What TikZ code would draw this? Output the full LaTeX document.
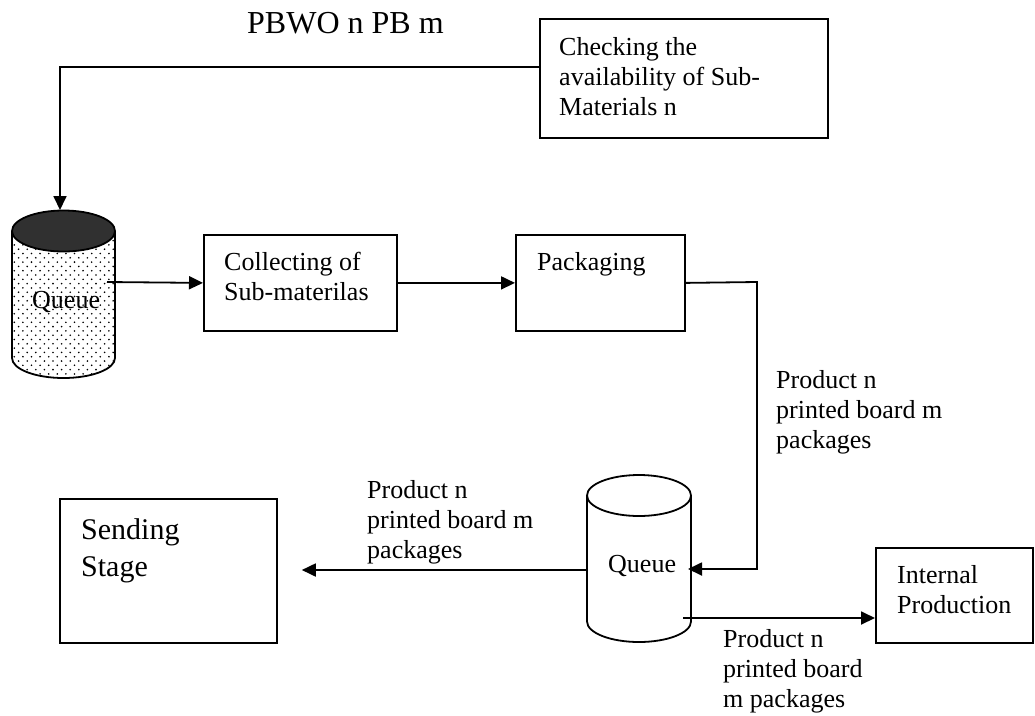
\documentclass[tikz,border=0pt]{standalone}
\usepackage{fontspec}
\setmainfont{Liberation Serif}
\usetikzlibrary{arrows.meta,calc}
\definecolor{capgray}{HTML}{303030}
\tikzset{
  boxnode/.style={draw, line width=1.8pt, rectangle, inner sep=0pt},
  txt/.style={anchor=base west, inner sep=0pt, align=left, font=\fontsize{26}{30}\selectfont},
  flow/.style={line width=1.8pt, -{Triangle[length=14pt,width=13pt]}},
  cyl/.style={line width=1.8pt}
}
\begin{document}
\begin{tikzpicture}[x=1pt,y=-1pt]
\useasboundingbox (0,0) rectangle (1035,715);

% heading
\node[txt, font=\fontsize{32}{36}\selectfont] (title) at (247,33) {PBWO n PB m};

% process boxes (text nodes are placed by the baseline of their last line)
\node[boxnode, anchor=north west, minimum width=288pt, minimum height=119pt] (check) at (539,18) {};
\node[txt] (checktxt) at (559,115) {Checking the\\availability of Sub-\\Materials n};

\node[boxnode, anchor=north west, minimum width=193pt, minimum height=96pt] (collect) at (203,234) {};
\node[txt] (collecttxt) at (224,300) {Collecting of\\Sub-materilas};

\node[boxnode, anchor=north west, minimum width=169pt, minimum height=96pt] (pack) at (515,234) {};
\node[txt] (packtxt) at (537,270) {Packaging};

\node[boxnode, anchor=north west, minimum width=217pt, minimum height=144pt] (send) at (59,498) {};
\node[txt, font=\fontsize{30}{37}\selectfont] (sendtxt) at (81,576) {Sending\\Stage};

\node[boxnode, anchor=north west, minimum width=157pt, minimum height=95pt] (ip) at (875,547) {};
\node[txt] (iptxt) at (897,613) {Internal\\Production};

% first queue: dotted body with a dark lid
\begin{scope}
  \clip (12,231) -- (12,358) arc[start angle=180,end angle=0,x radius=51.5,y radius=20] -- (115,231) -- cycle;
  \foreach \r in {0,...,42} {
    \pgfmathsetmacro{\yy}{232+4.3*\r}
    \pgfmathsetmacro{\off}{mod(\r,2)*4.3}
    \foreach \c in {0,...,13} {
      \fill (10+\off+8.6*\c,\yy) circle[radius=0.9pt];
    }
  }
\end{scope}
\draw[cyl] (12,231) -- (12,358) arc[start angle=180,end angle=0,x radius=51.5,y radius=20] -- (115,231);
\draw[cyl, fill=capgray] (63.5,231) ellipse[x radius=51.5, y radius=20.5];
\node[txt] (q1txt) at (32,308) {Queue};

% second queue
\draw[cyl] (587,495.5) -- (587,621.5) arc[start angle=180,end angle=0,x radius=52,y radius=20.5] -- (691,495.5);
\draw[cyl] (639,495.5) ellipse[x radius=52, y radius=20.5];
\node[txt] (q2txt) at (608,572) {Queue};

% connector end points on the queues
\coordinate (q1in) at (60,210);
\coordinate (q1out) at (107,282);
\coordinate (q2in) at (688,569);
\coordinate (q2left) at (588,570);
\coordinate (q2out) at (683,618);
\coordinate (pbend) at (757,282);

% connectors
\draw[flow] ($(check.north west)!0.403!(check.south west)$) -| (q1in);
\draw[flow] (q1out) -- (collect.west);
\draw[flow] (collect.east) -- (pack.west);
\draw[flow] (pack.east) -- (pbend) |- (q2in);
\draw[flow, shorten >=24pt] (q2left) -- (send.east |- q2left);
\draw[flow] (q2out) -- (ip.west |- q2out);

% connector labels
\node[txt] (lab1) at (776,448) {Product n\\printed board m\\packages};
\node[txt] (lab2) at (367,558) {Product n\\printed board m\\packages};
\node[txt] (lab3) at (723,707) {Product n\\printed board\\m packages};
\end{tikzpicture}
\end{document}
